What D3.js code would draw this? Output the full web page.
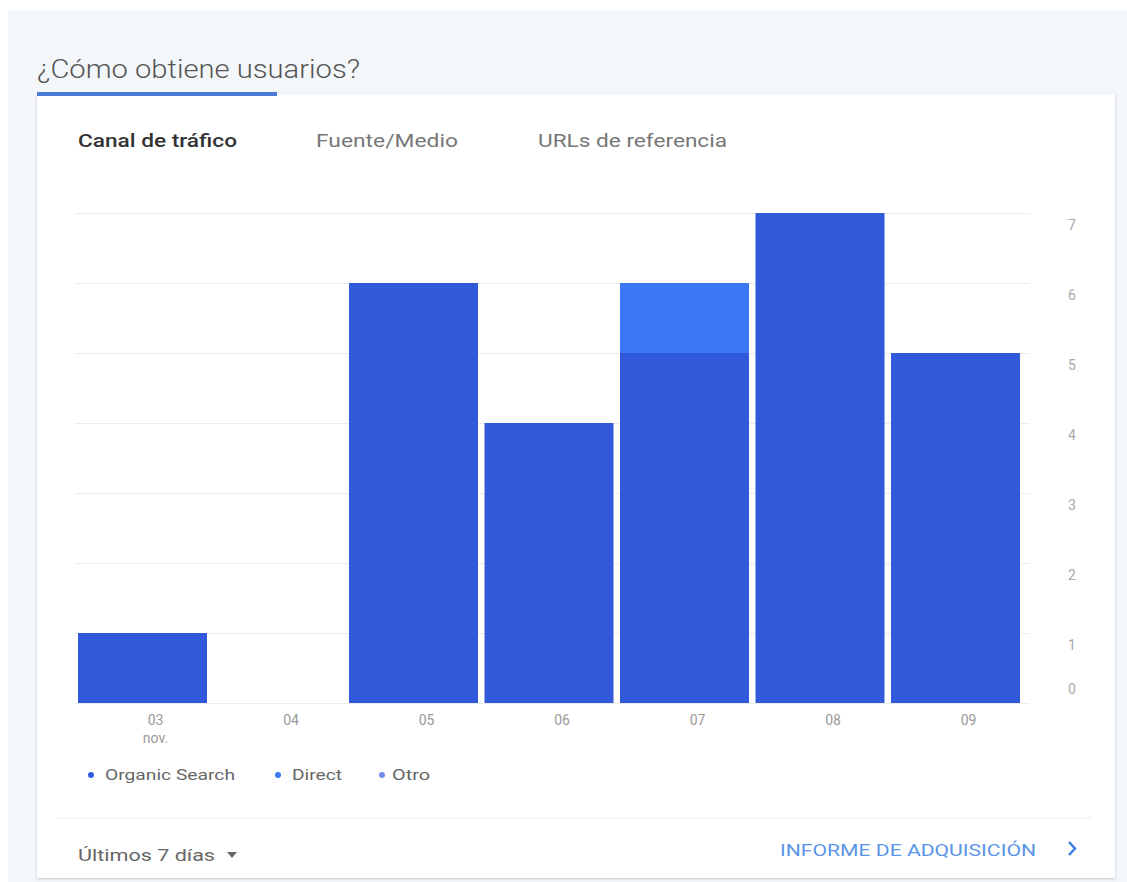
<!DOCTYPE html>
<html><head><meta charset="utf-8">
<script src="https://cdn.jsdelivr.net/npm/d3@7"></script>
<style>
html,body{margin:0;padding:0;background:#fff;}
svg{display:block;font-family:Roboto,"Noto Sans",sans-serif;}
</style></head>
<body>
<svg id="c" width="1127" height="882"></svg>
<script>
const days = ["03","04","05","06","07","08","09"];
const seriesNames = ["Organic Search","Direct","Otro"];
const organic = [1,0,6,4,5,7,5];
const direct  = [0,0,0,0,1,0,0];
const otro    = [0,0,0,0,0,0,0];
const yTicks = [0,1,2,3,4,5,6,7];
const colors = ["#3259d9","#3a78f5","#6f8de6"];
const tabs = ["Canal de tráfico","Fuente/Medio","URLs de referencia"];

const svg = d3.select("#c");
svg.append("rect").attr("x",8).attr("y",10).attr("width",1119).attr("height",872).attr("fill","#f4f7fa");
const defs = svg.append("defs");
const f = defs.append("filter").attr("id","sh").attr("x","-5%").attr("y","-5%").attr("width","110%").attr("height","110%");
f.append("feDropShadow").attr("dx",0).attr("dy",1).attr("stdDeviation",1.5).attr("flood-color","#000").attr("flood-opacity",0.18);
svg.append("rect").attr("x",37).attr("y",94).attr("width",1078).attr("height",784).attr("fill","#fff").attr("filter","url(#sh)");
svg.append("rect").attr("x",37).attr("y",92).attr("width",240).attr("height",4).attr("fill","#4a7bd8");

svg.append("text").attr("x",37).attr("y",78).attr("font-size",25).attr("font-weight",300).attr("fill","#555")
  .attr("textLength",323).attr("lengthAdjust","spacingAndGlyphs").text("¿Cómo obtiene usuarios?");

const tabX=[78,316,538], tabW=[159,142,189];
svg.selectAll(".tab").data(tabs).join("text").attr("class","tab")
  .attr("x",(d,i)=>tabX[i]).attr("y",147).attr("font-size",18)
  .attr("textLength",(d,i)=>tabW[i]).attr("lengthAdjust","spacingAndGlyphs")
  .attr("font-weight",(d,i)=>i==0?500:400).attr("fill",(d,i)=>i==0?"#333":"#777").text(d=>d);

const x = d3.scaleBand().domain(days).range([74.75,1023.25]).paddingInner(0.048).paddingOuter(0.024);
const y = d3.scaleLinear().domain([0,7]).range([703,213]);

const grid = svg.append("g").attr("transform","translate(75,0)")
  .call(d3.axisRight(y).tickValues(yTicks).tickSize(955).tickFormat(""));
grid.select(".domain").remove();
grid.selectAll("line").attr("stroke","#ececec");

const data = days.map((d,i)=>({day:d,"Organic Search":organic[i],"Direct":direct[i],"Otro":otro[i]}));
const stacked = d3.stack().keys(seriesNames)(data);
svg.append("g").selectAll("g").data(stacked).join("g").attr("fill",(d,i)=>colors[i])
  .selectAll("rect").data(d=>d).join("rect")
  .attr("x",d=>x(d.data.day)).attr("width",x.bandwidth())
  .attr("y",d=>y(d[1])).attr("height",d=>y(d[0])-y(d[1]));

const ya = svg.append("g").attr("transform","translate(1072,0)")
  .call(d3.axisRight(y).tickValues(yTicks).tickSize(0).tickPadding(0).tickFormat(d3.format("d")));
ya.select(".domain").remove();
ya.selectAll("text").attr("text-anchor","middle").attr("fill","#aaa").attr("font-size",14)
  .attr("font-family","Roboto,sans-serif").attr("dy",d=>d===0?"-0.7em":"1.15em");

const xa = svg.append("g").attr("transform","translate(13,703)")
  .call(d3.axisBottom(x).tickSize(0).tickPadding(12));
xa.select(".domain").remove();
xa.selectAll("text").attr("fill","#999").attr("font-size",14).attr("font-family","Roboto,sans-serif");
xa.selectAll(".tick").filter(d=>d==="03")
  .append("text").attr("y",30).attr("dy","0.71em")
  .attr("fill","#999").attr("font-size",14).attr("text-anchor","middle").attr("font-family","Roboto,sans-serif").text("nov.");

const legX=[91,278,382], legW=[130,50,38];
const lg = svg.append("g").selectAll("g").data(seriesNames).join("g")
  .attr("transform",(d,i)=>`translate(${legX[i]},775)`);
lg.append("circle").attr("r",3).attr("fill",(d,i)=>colors[i]);
lg.append("text").attr("x",(d,i)=>i==2?10:14).attr("dy","0.35em").attr("font-size",15).attr("fill","#666")
  .attr("textLength",(d,i)=>legW[i]).attr("lengthAdjust","spacingAndGlyphs").text(d=>d);

svg.append("line").attr("x1",57).attr("x2",1092).attr("y1",818).attr("y2",818).attr("stroke","#eee");
svg.append("text").attr("x",78).attr("y",861).attr("font-size",16).attr("fill","#666")
  .attr("textLength",137).attr("lengthAdjust","spacingAndGlyphs").text("Últimos 7 días");
svg.append("path").attr("d","M227,852 L237,852 L232,858 Z").attr("fill","#666");
svg.append("text").attr("x",1036).attr("y",856).attr("text-anchor","end").attr("font-size",16).attr("fill","#5b94e6")
  .attr("textLength",256).attr("lengthAdjust","spacingAndGlyphs").text("INFORME DE ADQUISICIÓN");
svg.append("path").attr("d","M1069,842 L1075,848.5 L1069,855").attr("fill","none").attr("stroke","#3f7fe8").attr("stroke-width",2.5);
</script>
</body></html>
